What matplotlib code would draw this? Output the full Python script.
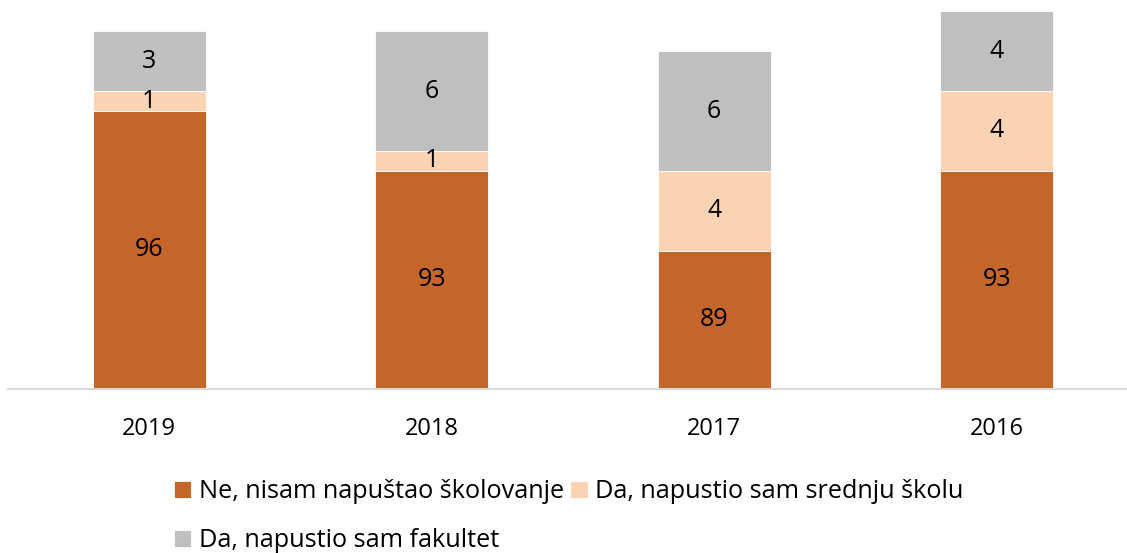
import numpy as np
import matplotlib
matplotlib.use("Agg")
import matplotlib.pyplot as plt

years = ["2019", "2018", "2017", "2016"]
ne_nisam = [96, 93, 89, 93]
srednja = [1, 1, 4, 4]
fakultet = [3, 6, 6, 4]
labels = ["Ne, nisam napuštao školovanje", "Da, napustio sam srednju školu", "Da, napustio sam fakultet"]
colors = ["#C4652A", "#FBD4B4", "#BFBFBF"]

plt.rcParams['font.family'] = ['Open Sans', 'DejaVu Sans']

fig = plt.figure(figsize=(11.27, 5.53), dpi=100)
ax = fig.add_axes([8 / 1127, 164 / 553, 1119 / 1127, 389 / 553])

x = np.arange(len(years))
ymin = 82.1
series = [ne_nisam, srednja, fakultet]
bottom = np.zeros(len(years))
handles = []
for vals, col, lab in zip(series, colors, labels):
    vals = np.array(vals, dtype=float)
    # first segment starts at the axis floor, like the original
    base = np.where(bottom == 0, ymin, bottom)
    heights = vals + bottom - base
    bars = ax.bar(x, heights, 0.4, bottom=base, color=col, edgecolor="white", linewidth=0.6, label=lab)
    handles.append(bars)
    for xi, b, h, v in zip(x, base, heights, vals):
        ax.text(xi, b + h / 2, f"{int(v)}", ha="center", va="center", fontsize=18, color="black")
    bottom = bottom + vals

ax.set_ylim(ymin, ymin + 389 / 20)
ax.set_xlim(-0.5, -0.5 + 1119 / 282.5)
ax.set_yticks([])
ax.set_xticks(x)
ax.set_xticklabels(years, fontsize=17)
ax.tick_params(axis="x", length=0, pad=20)
for s in ["top", "right", "left"]:
    ax.spines[s].set_visible(False)
ax.spines["bottom"].set_color("#D9D9D9")
ax.spines["bottom"].set_linewidth(1.5)

order = [0, 2, 1]
leg = fig.legend([handles[i] for i in order], [labels[i] for i in order], ncol=2,
                 loc="upper left", bbox_to_anchor=(164 / 1127, 1 - 469 / 553), frameon=False,
                 fontsize=18.2, handlelength=0.68, handleheight=0.68, handletextpad=0.3,
                 columnspacing=0.25, labelspacing=0.95, borderaxespad=0)

fig.savefig("out.png", dpi=100)
